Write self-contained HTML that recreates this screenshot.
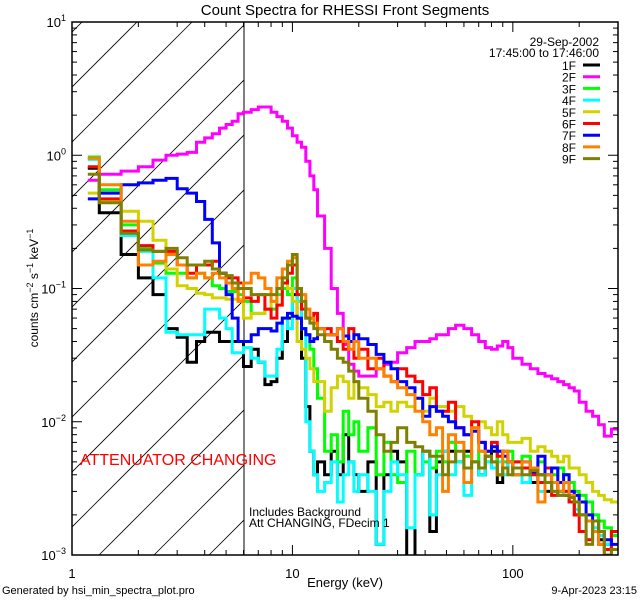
<!DOCTYPE html>
<html><head><meta charset="utf-8"><title>Count Spectra</title>
<style>html,body{margin:0;padding:0;background:#fff}svg{display:block;font-family:"Liberation Sans",sans-serif}</style>
</head><body>
<svg id="chart" width="640" height="600" viewBox="0 0 640 600" xmlns="http://www.w3.org/2000/svg">
<defs><clipPath id="pc"><rect x="72" y="22" width="546" height="533"/></clipPath>
<clipPath id="hc"><rect x="72" y="22" width="172" height="533"/></clipPath></defs>
<rect width="640" height="600" fill="#fff"/>
<text x="345" y="15" font-size="15" text-anchor="middle">Count Spectra for RHESSI Front Segments</text>
<g id="hatch" clip-path="url(#hc)"></g>
<line x1="244" y1="22" x2="244" y2="555" stroke="#000" stroke-width="1"/>
<g id="series" clip-path="url(#pc)"></g>
<rect x="72" y="22" width="546" height="533" fill="none" stroke="#000" stroke-width="1.5"/>
<g id="axes"></g>
<text x="345" y="587" font-size="13" text-anchor="middle">Energy (keV)</text>
<text transform="translate(38,288) rotate(-90)" font-size="12" text-anchor="middle">counts cm<tspan dy="-5" font-size="9">−2</tspan><tspan dy="5"> s</tspan><tspan dy="-5" font-size="9">−1</tspan><tspan dy="5"> keV</tspan><tspan dy="-5" font-size="9">−1</tspan></text>
<text x="599" y="46" font-size="12" text-anchor="end">29-Sep-2002</text>
<text x="599" y="57" font-size="12" text-anchor="end">17:45:00 to 17:46:00</text>
<g id="legend"></g>
<text x="80" y="465" font-size="16" fill="#ff0000">ATTENUATOR CHANGING</text>
<text x="249" y="516" font-size="12">Includes Background</text>
<text x="249" y="527" font-size="12">Att CHANGING, FDecim 1</text>
<text x="2" y="594" font-size="11">Generated by hsi_min_spectra_plot.pro</text>
<text x="637" y="594" font-size="11" text-anchor="end">9-Apr-2023 23:15</text>
</svg>
<script>
const edges = [1.18,1.33,1.67,2,2.33,2.67,3,3.33,3.67,4,4.33,4.67,5,5.33,5.67,6,
 6.5,7,7.5,8,8.5,9,9.5,10,10.5,11,11.5,12,12.5,13,14,15,
 16,17,18,19,20,22,24,26,28,30,
 33,36,39,42,45,48,51,55,60,65,70,75,80,85,90,95,100,
 110,120,130,140,150,160,170,180,190,200,215,230,245,260,280,300];
const seriesNames = ["1F","2F","3F","4F","5F","6F","7F","8F","9F"];
const seriesColors = ["#000000","#ff00ff","#00ff00","#00ffff","#d2d200","#ff0000","#0000ff","#ff8000","#808000"];
const s1F = [0.8,0.37,0.18,0.12,0.09,0.05,0.043,0.028,0.04,0.047,0.047,0.04,0.04,0.04,0.04,
 0.026,0.035,0.028,0.019,0.02,0.03,0.04,0.06,0.09,0.06,0.03,0.013,0.006,0.004,0.005,0.004,
 0.006,0.004,0.008,0.005,0.004,0.003,0.005,0.0012,0.004,0.006,
 0.005,0.0009,0.004,0.006,0.0015,0.005,0.006,0.006,0.005,0.006,0.005,0.004,0.0055,0.006,0.0035,0.0045,0.005,
 0.004,0.0045,0.0035,0.004,0.003,0.0035,0.003,0.0028,0.0025,0.002,0.002,0.0018,0.0015,0.0013,0.0012,0.0011];
const s2F = [0.65,0.72,0.76,0.82,0.92,1.0,1.02,1.05,1.25,1.35,1.45,1.6,1.7,1.8,2.05,
 2.1,2.2,2.3,2.3,2.1,1.95,1.8,1.6,1.4,1.25,1.15,0.9,0.7,0.55,0.35,0.2,
 0.1,0.065,0.038,0.027,0.024,0.022,0.022,0.025,0.027,0.028,
 0.033,0.036,0.04,0.04,0.042,0.045,0.045,0.05,0.053,0.05,0.045,0.04,0.036,0.035,0.037,0.04,0.036,
 0.03,0.027,0.025,0.023,0.022,0.021,0.02,0.019,0.018,0.017,0.014,0.012,0.011,0.0095,0.0078,0.0088];
const s3F = [0.97,0.55,0.3,0.2,0.155,0.13,0.13,0.12,0.13,0.12,0.105,0.1,0.095,0.095,0.09,
 0.08,0.065,0.065,0.07,0.07,0.09,0.1,0.09,0.12,0.08,0.05,0.045,0.035,0.025,0.015,0.006,
 0.008,0.005,0.012,0.008,0.01,0.006,0.009,0.004,0.007,0.004,
 0.0035,0.006,0.004,0.005,0.0045,0.006,0.005,0.007,0.005,0.0055,0.005,0.006,0.005,0.0045,0.006,0.005,0.006,
 0.005,0.0055,0.0045,0.005,0.0045,0.004,0.0045,0.004,0.0035,0.003,0.0028,0.0025,0.002,0.0018,0.0016,0.0014];
const s4F = [0.93,0.52,0.25,0.19,0.12,0.047,0.045,0.045,0.045,0.07,0.07,0.06,0.05,0.033,0.033,
 0.036,0.03,0.028,0.022,0.022,0.035,0.06,0.05,0.1,0.08,0.05,0.01,0.006,0.004,0.003,0.0035,
 0.005,0.0025,0.004,0.005,0.003,0.004,0.003,0.0012,0.003,0.005,
 0.004,0.0016,0.004,0.006,0.002,0.004,0.006,0.004,0.005,0.0028,0.005,0.004,0.005,0.0045,0.005,0.004,0.005,
 0.004,0.0035,0.004,0.003,0.0035,0.003,0.0028,0.003,0.0025,0.0022,0.002,0.0018,0.0016,0.0014,0.0012,0.0011];
const s5F = [0.52,0.45,0.38,0.32,0.23,0.14,0.105,0.1,0.092,0.09,0.085,0.085,0.083,0.083,0.083,
 0.06,0.065,0.065,0.07,0.08,0.1,0.12,0.1,0.08,0.04,0.035,0.03,0.025,0.02,0.02,0.012,
 0.018,0.022,0.02,0.015,0.02,0.018,0.016,0.013,0.014,0.012,
 0.014,0.013,0.015,0.012,0.015,0.013,0.013,0.012,0.013,0.011,0.009,0.01,0.009,0.008,0.01,0.008,0.007,
 0.007,0.0075,0.006,0.0065,0.006,0.0055,0.005,0.0055,0.0045,0.0045,0.004,0.0035,0.003,0.0028,0.0026,0.0025];
const s6F = [0.82,0.47,0.27,0.21,0.19,0.19,0.15,0.13,0.15,0.15,0.16,0.13,0.12,0.12,0.11,
 0.085,0.08,0.09,0.07,0.06,0.075,0.11,0.13,0.15,0.09,0.07,0.06,0.06,0.065,0.05,0.05,
 0.045,0.04,0.035,0.05,0.03,0.035,0.025,0.03,0.022,0.02,
 0.025,0.022,0.02,0.016,0.018,0.012,0.012,0.014,0.009,0.008,0.01,0.007,0.006,0.007,0.0055,0.006,0.005,
 0.005,0.0045,0.004,0.0035,0.0045,0.0028,0.0035,0.003,0.0025,0.002,0.0015,0.0013,0.0018,0.0012,0.0011,0.0015];
const s7F = [0.47,0.52,0.6,0.62,0.65,0.67,0.56,0.52,0.45,0.33,0.22,0.13,0.09,0.06,0.04,
 0.04,0.045,0.05,0.05,0.048,0.055,0.06,0.065,0.062,0.06,0.05,0.045,0.04,0.042,0.05,0.045,
 0.045,0.05,0.044,0.04,0.045,0.042,0.038,0.032,0.028,0.025,
 0.02,0.018,0.015,0.011,0.013,0.012,0.011,0.01,0.009,0.008,0.0085,0.007,0.006,0.0065,0.006,0.0055,0.005,
 0.0045,0.005,0.0042,0.0055,0.004,0.0045,0.0035,0.004,0.003,0.0028,0.0025,0.002,0.0018,0.0015,0.0013,0.0012];
const s8F = [0.95,0.6,0.32,0.15,0.16,0.18,0.15,0.12,0.13,0.12,0.13,0.12,0.11,0.1,0.08,
 0.11,0.13,0.12,0.1,0.08,0.12,0.14,0.16,0.17,0.1,0.09,0.07,0.06,0.055,0.05,0.045,
 0.045,0.05,0.04,0.035,0.04,0.03,0.03,0.025,0.022,0.02,
 0.018,0.016,0.012,0.01,0.008,0.009,0.003,0.008,0.007,0.0035,0.009,0.006,0.0055,0.005,0.004,0.006,0.005,
 0.004,0.005,0.0045,0.0025,0.004,0.0035,0.003,0.0035,0.0028,0.0025,0.002,0.0018,0.0015,0.0012,0.001,0.0011];
const s9F = [0.72,0.44,0.26,0.195,0.19,0.2,0.17,0.15,0.15,0.16,0.14,0.13,0.125,0.11,0.1,
 0.1,0.09,0.09,0.09,0.09,0.1,0.12,0.15,0.18,0.1,0.08,0.06,0.055,0.05,0.045,0.04,
 0.035,0.03,0.028,0.024,0.02,0.015,0.012,0.008,0.006,0.007,
 0.009,0.007,0.0065,0.006,0.0055,0.0055,0.004,0.005,0.006,0.0045,0.005,0.0045,0.0055,0.005,0.004,0.0045,0.004,
 0.0045,0.004,0.0043,0.004,0.0035,0.003,0.0028,0.0028,0.0027,0.0025,0.002,0.0012,0.0018,0.0015,0.001,0.0011];
const seriesValues = [s1F,s2F,s3F,s4F,s5F,s6F,s7F,s8F,s9F];
const xTickLabels = ["1","10","100"];
const yTickExps = ["1","0","−1","−2","−3"];

const NS = "http://www.w3.org/2000/svg";
const X0 = 72, X1 = 618, Y0 = 22, Y1 = 555;
const xMinLog = 0, xMaxLog = Math.log10(300), yMinLog = -3, yMaxLog = 1;
function xs(e){ return X0 + (Math.log10(e) - xMinLog) / (xMaxLog - xMinLog) * (X1 - X0); }
function ys(v){ return Y1 - (Math.log10(Math.max(v,1e-5)) - yMinLog) / (yMaxLog - yMinLog) * (Y1 - Y0); }
function mk(tag, attrs, parent){ const el = document.createElementNS(NS, tag); for (const k in attrs) el.setAttribute(k, attrs[k]); parent.appendChild(el); return el; }

// hatch
const hatch = document.getElementById("hatch");
for (let k = -12; k < 6; k++) {
  const bx = 99 + k * 55;
  const ln = mk("line", {x1: bx, y1: Y1, x2: bx + (Y1 - Y0), y2: Y0, stroke: "#000", "stroke-width": 0.8}, hatch);
  
  
}

// series
const sg = document.getElementById("series");
seriesValues.forEach((vals, si) => {
  let d = "";
  for (let i = 0; i < vals.length; i++) {
    const xa = xs(edges[i]), xb = xs(edges[i+1]), y = ys(vals[i]);
    d += (i === 0 ? "M" : "L") + xa.toFixed(1) + "," + y.toFixed(1) + "L" + xb.toFixed(1) + "," + y.toFixed(1);
  }
  const p = mk("path", {d: d, fill: "none", stroke: seriesColors[si], "stroke-width": 3, "stroke-linejoin": "miter"}, sg);
  
  
});

// axes ticks
const ag = document.getElementById("axes");
for (let dec = 0; dec <= 2; dec++) {
  for (let m = 1; m <= 9; m++) {
    const e = m * Math.pow(10, dec);
    if (e > 300) break;
    const x = xs(e), len = m === 1 ? 10 : 5;
    const t1 = mk("line", {x1: x, y1: Y1, x2: x, y2: Y1 - len, stroke: "#000", "stroke-width": 1}, ag);
    
    
    const t2 = mk("line", {x1: x, y1: Y0, x2: x, y2: Y0 + len, stroke: "#000", "stroke-width": 1}, ag);
    
    
  }
}
xTickLabels.forEach((lab) => {
  const t = mk("text", {x: xs(Number(lab)), y: 578, "font-size": 13, "text-anchor": "middle"}, ag);
  t.textContent = lab;
  
  
});
for (let p = -3; p <= 1; p++) {
  for (let m = 1; m <= 9; m++) {
    const v = m * Math.pow(10, p);
    if (v > 10.001) break;
    const y = ys(v), len = m === 1 ? 10 : 5;
    const t1 = mk("line", {x1: X0, y1: y, x2: X0 + len, y2: y, stroke: "#000", "stroke-width": 1}, ag);
    
    
    const t2 = mk("line", {x1: X1, y1: y, x2: X1 - len, y2: y, stroke: "#000", "stroke-width": 1}, ag);
    
    
  }
}
yTickExps.forEach((ex, i) => {
  const v = Math.pow(10, 1 - i);
  const t = mk("text", {x: 66, y: ys(v) + 5, "font-size": 13, "text-anchor": "end"}, ag);
  
  
  const a = document.createElementNS(NS, "tspan"); a.textContent = "10"; t.appendChild(a);
  const b = document.createElementNS(NS, "tspan"); b.setAttribute("dy", "-6"); b.setAttribute("font-size", "9"); b.textContent = ex; t.appendChild(b);
});

// legend
const lg = document.getElementById("legend");
seriesNames.forEach((nm, i) => {
  const y = 65 + i * 11.7;
  const t = mk("text", {x: 576, y: y + 5, "font-size": 12, "text-anchor": "end"}, lg);
  t.textContent = nm;
  
  
  const l = mk("line", {x1: 583, y1: y, x2: 600, y2: y, stroke: seriesColors[i], "stroke-width": 3}, lg);
  
  
});
</script>
</body></html>
